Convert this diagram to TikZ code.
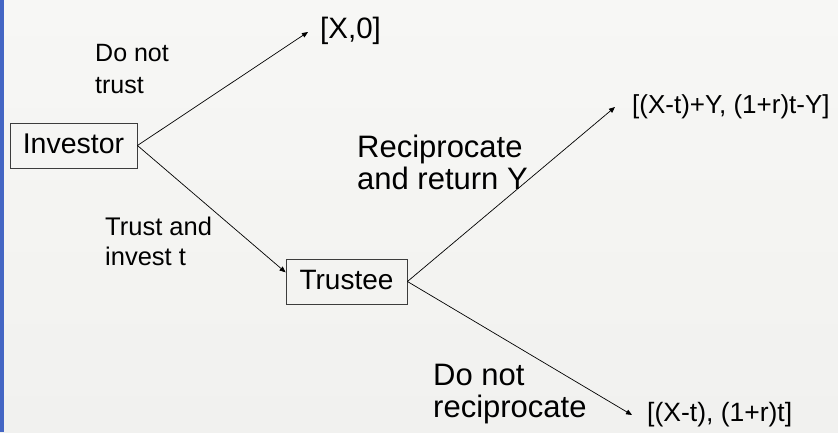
\documentclass[tikz,border=0pt]{standalone}
\usepackage{fontspec}
\setmainfont{Liberation Sans}
\usetikzlibrary{arrows.meta,calc}
\definecolor{bgcol}{RGB}{241,241,239}
\definecolor{bgtop}{RGB}{247,247,245}
\definecolor{barblue}{RGB}{68,102,196}
\definecolor{boxline}{RGB}{60,60,60}
\tikzset{
  player/.style={draw=boxline, line width=0.9pt, inner sep=0pt, text height=20pt, text depth=5pt},
  lbl/.style={anchor=base west, inner sep=0pt, align=left},
  branch/.style={draw=black, line width=0.7pt, -{Triangle[length=6pt,width=5pt]}},
}
\begin{document}
\begin{tikzpicture}[x=1pt,y=-1pt]
\useasboundingbox (0,0) rectangle (838,432);
\shade[top color=bgtop, bottom color=bgcol] (0,0) rectangle (838,432);
\fill[barblue] (0,0) rectangle (3.5,432);

\node[player, minimum width=127pt, minimum height=45pt, font=\fontsize{28.5}{34}\selectfont] (inv) at (73.5,145.5) {Investor};
\node[player, minimum width=121pt, minimum height=45pt, font=\fontsize{28}{34}\selectfont] (tru) at (346.5,281.5) {Trustee};

\node[lbl, font=\fontsize{29.5}{34}\selectfont] (x0) at (320,38.5) {[X,0]};
\node[lbl, font=\fontsize{26}{32}\selectfont] (pay1) at (632,113) {[(X-t)+Y, (1+r)t-Y]};
\node[lbl, font=\fontsize{26.5}{32}\selectfont] (pay2) at (647,421) {[(X-t), (1+r)t]};

% multi-line labels: the base anchor is the baseline of the last line
\node[lbl, font=\fontsize{25}{31.5}\selectfont] (dnt) at (95,93.3) {Do not\\trust};
\node[lbl, font=\fontsize{25.5}{30}\selectfont] (tai) at (105,265) {Trust and\\invest t};
\node[lbl, font=\fontsize{31}{32}\selectfont] (rec) at (357,189) {Reciprocate\\and return Y};
\node[lbl, font=\fontsize{31}{32}\selectfont] (dnr) at (433,417) {Do not\\reciprocate};

\coordinate (tipx) at (308,32);
\coordinate (tip1) at (615,107);
\coordinate (tip2) at (632,415);
\coordinate (tipt) at ($(tru.north west)!0.3!(tru.south west)$);

\draw[branch] (inv.east) -- (tipx);
\draw[branch] (inv.east) -- (tipt);
\draw[branch] (tru.east) -- (tip1);
\draw[branch] (tru.east) -- (tip2);
\end{tikzpicture}
\end{document}
